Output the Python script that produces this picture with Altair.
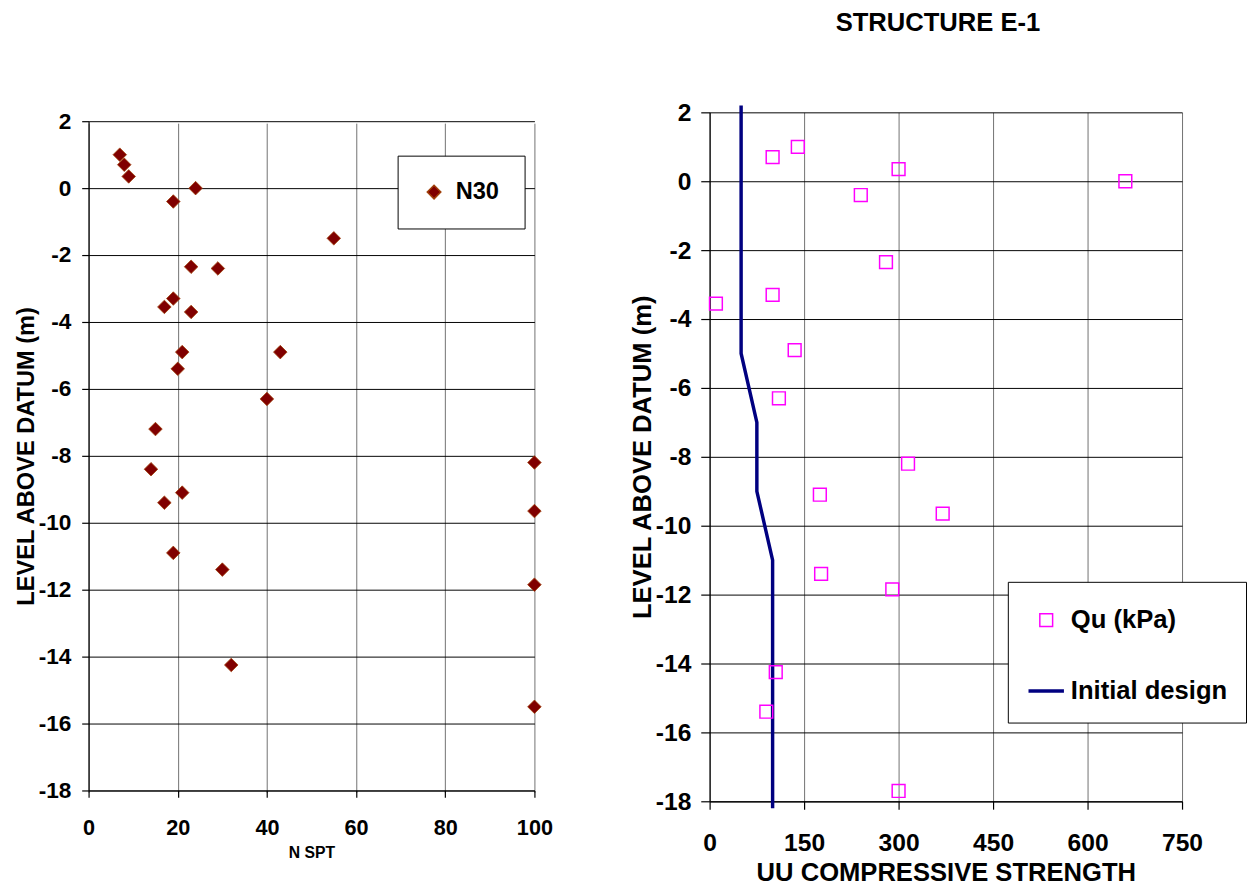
import altair as alt
import pandas as pd

# ---- data ----
n_spt = [7, 8, 9, 24, 19, 55, 23, 29, 19, 17, 23, 21, 43, 20, 40, 15, 14, 100, 21, 17, 100, 19, 30, 100, 32, 100]
n_level = [1.0, 0.7, 0.35, 0.0, -0.4, -1.5, -2.35, -2.4, -3.3, -3.55, -3.7, -4.9, -4.9, -5.4, -6.3,
           -7.2, -8.4, -8.2, -9.1, -9.4, -9.65, -10.9, -11.4, -11.85, -14.25, -15.5]

qu_kpa = [140, 100, 300, 660, 240, 280, 10, 100, 135, 110, 315, 175, 370, 177, 290, 105, 90, 300]
qu_level = [1.0, 0.7, 0.35, 0.0, -0.4, -2.35, -3.55, -3.3, -4.9, -6.3, -8.2, -9.1, -9.65, -11.4,
            -11.85, -14.25, -15.4, -17.7]

design_strength = [50, 50, 75, 75, 100, 100]
design_level = [2.2, -5, -7, -9, -11, -18.2]

level_ticks = [2, 0, -2, -4, -6, -8, -10, -12, -14, -16, -18]
nspt_ticks = [0, 20, 40, 60, 80, 100]
qu_ticks = [0, 150, 300, 450, 600, 750]

series_names = ["Qu (kPa)", "Initial design"]

FONT = "Liberation Sans"
LABEL = "'' + datum.value"

left_df = pd.DataFrame({"N": n_spt, "level": n_level, "series": ["N30"] * len(n_spt)})
pts_df = pd.DataFrame({"qu": qu_kpa, "level": qu_level, "series": [series_names[0]] * len(qu_kpa)})
line_df = pd.DataFrame({"qu": design_strength, "level": design_level,
                        "order": list(range(len(design_level)))})

# ---- left panel ----
left = alt.Chart(left_df).mark_point(
    shape="diamond", filled=True, size=190, stroke="#A0400A", strokeWidth=0.8, opacity=1
).encode(
    x=alt.X("N:Q", scale=alt.Scale(domain=[0, 100], nice=False),
            axis=alt.Axis(values=nspt_ticks, title="N SPT", offset=-11, labelFontSize=22,
                          labelPadding=21, tickSize=7, titleFontSize=16, titlePadding=6,
                          gridColor="#707070", labelExpr=LABEL)),
    y=alt.Y("level:Q", scale=alt.Scale(domain=[-18, 2], range=[689, 9], nice=False),
            axis=alt.Axis(values=level_ticks, title="LEVEL ABOVE DATUM (m)", labelFontSize=23,
                          labelPadding=11, tickSize=7, titleFontSize=24, titlePadding=0,
                          gridColor="#000000", labelExpr=LABEL)),
    color=alt.Color("series:N", scale=alt.Scale(domain=["N30"], range=["#800000"]),
                    legend=alt.Legend(title=None, orient="none", legendX=314, legendY=44,
                                      padding=25, labelFontSize=24, labelOffset=10,
                                      symbolType="diamond", symbolSize=190,
                                      strokeColor="#000000", fillColor="#ffffff")),
).properties(width=453, height=700)

# ---- right panel ----
qu_scale = alt.Scale(domain=[0, 750], nice=False)
lvl_scale = alt.Scale(domain=[-18, 2], nice=False)

leg = alt.Legend(title=" ", titleFontSize=1, titlePadding=6,
                 orient="none", legendX=303, legendY=477, padding=19,
                 labelFontSize=26, labelOffset=5, rowPadding=39,
                 strokeColor="#000000", fillColor="#ffffff", symbolFillColor="transparent")

points = alt.Chart(pts_df).mark_point(filled=False, opacity=1).encode(
    x=alt.X("qu:Q", scale=qu_scale,
            axis=alt.Axis(values=qu_ticks, title="UU COMPRESSIVE STRENGTH", labelFontSize=25,
                          labelPadding=22, tickSize=8, titleFontSize=26, titlePadding=4,
                          gridColor="#707070", labelExpr=LABEL)),
    y=alt.Y("level:Q", scale=lvl_scale,
            axis=alt.Axis(values=level_ticks, title="LEVEL ABOVE DATUM (m)", labelFontSize=25,
                          labelPadding=10, tickSize=9, titleFontSize=26, titlePadding=0,
                          gridColor="#000000", labelExpr=LABEL)),
    color=alt.Color("series:N", scale=alt.Scale(domain=series_names, range=["#FF00FF", "#000080"]),
                    legend=leg),
    shape=alt.Shape("series:N", scale=alt.Scale(domain=series_names, range=["square", "stroke"]),
                    legend=leg),
    size=alt.Size("series:N", scale=alt.Scale(domain=series_names, range=[169, 1296]), legend=leg),
    strokeWidth=alt.StrokeWidth("series:N", scale=alt.Scale(domain=series_names, range=[1.5, 3.5]),
                                legend=leg),
)

design = alt.Chart(line_df).mark_line(color="#000080", strokeWidth=3.5).encode(
    x=alt.X("qu:Q", scale=qu_scale),
    y=alt.Y("level:Q", scale=lvl_scale),
    order="order:Q",
)

right = alt.layer(design, points).properties(
    width=480, height=700,
    title=alt.TitleParams("STRUCTURE E-1", fontSize=26, font=FONT, fontWeight="bold",
                          anchor="middle", offset=64, dx=-8),
)

chart = alt.hconcat(left, right, spacing=77).resolve_scale(
    x="independent", y="independent", color="independent", shape="independent",
    size="independent", strokeWidth="independent"
).resolve_legend(
    color="independent", shape="independent", size="independent", strokeWidth="independent"
).properties(
    padding={"left": 14, "top": 3, "right": 0, "bottom": 0}
).configure(font=FONT).configure_view(stroke=None).configure_axis(
    labelFont=FONT, labelFontWeight="bold", labelColor="#000000",
    titleFont=FONT, titleFontWeight="bold", titleColor="#000000",
    domainColor="#000000", tickColor="#000000", gridOpacity=1, gridWidth=1,
    domainWidth=1.2, tickWidth=1.2, labelFlush=False,
).configure_legend(
    labelFont=FONT, labelFontWeight="bold", labelColor="#000000",
)

chart.save("out.html", embed_options={"renderer": "svg", "actions": False})
